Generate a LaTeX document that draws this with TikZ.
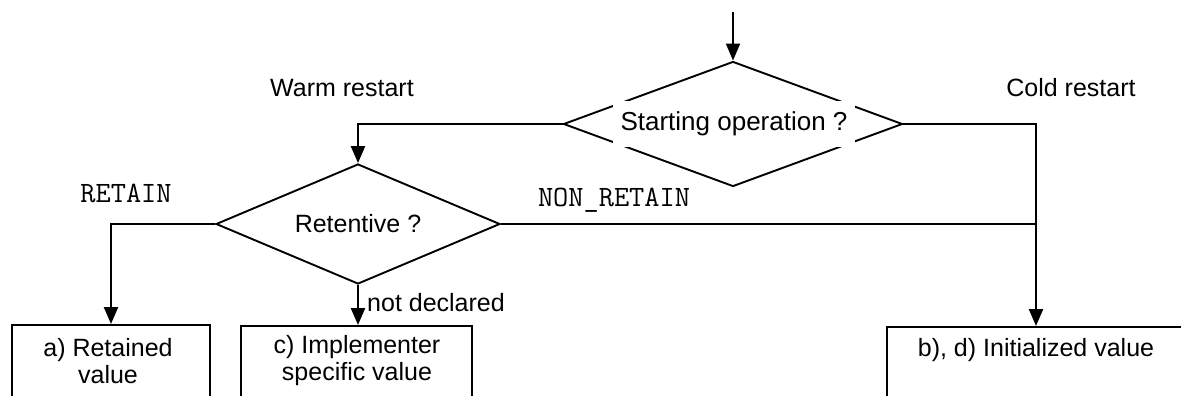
\documentclass[tikz,border=0pt]{standalone}
\usepackage{fontspec}
\setmainfont{Liberation Sans}
\usetikzlibrary{arrows.meta,shapes.geometric}
\begin{document}
\begin{tikzpicture}[x=1pt,y=-1pt, line join=miter,
  txt/.style={font=\fontsize{25}{27}\selectfont, inner sep=0pt},
  mono/.style={font=\ttfamily\fontsize{29.5}{34}\selectfont, inner sep=0pt},
  dia/.style={draw, diamond, inner sep=0pt, line width=1.9pt},
  box/.style={draw, rectangle, line width=1.9pt, inner sep=0pt},
  conn/.style={line width=2.4pt},
  arr/.style={conn, -{Triangle[length=17pt,width=14pt]}}]
\useasboundingbox (0,0) rectangle (1181,396);
\clip (0,0) rectangle (1181,396);
% decisions
\node[dia, minimum width=339pt, minimum height=125pt] (d1) at (733,124) {};
\node[txt, font=\fontsize{26}{28}\selectfont, fill=white, minimum width=242pt, minimum height=46pt] (d1t) at (734,124) {Starting operation ?};
\node[dia, minimum width=284pt, minimum height=120pt] (d2) at (358,224) {};
\node[txt] (d2t) at (358,224) {Retentive ?};
% boxes
\node[box, minimum width=198pt, minimum height=120pt, anchor=north] (ba) at (111,324) {};
\node[box, minimum width=231pt, minimum height=120pt, anchor=north] (bc) at (356.5,325) {};
\node[box, minimum width=320pt, minimum height=120pt, anchor=north west] (bbd) at (886,326) {};
\node[txt, align=center] (bat) at (108,361) {a) Retained\\value};
\node[txt, align=center] (bct) at (357,361) {c) Implementer\\specific value};
\node[txt] (bbdt) at (1036,350) {b), d) Initialized value};
% labels
\node[txt] (warm) at (342,88) {Warm restart};
\node[txt] (cold) at (1071,88) {Cold restart};
\node[mono] (ret) at (126,193) {RETAIN};
\node[mono] (nret) at (614,200) {NON\_RETAIN};
\node[txt, anchor=west] (nd) at (367,303) {not declared};
% connectors
\coordinate (start) at (733,12);
\coordinate (bdin) at (1036,326);
\draw[arr, line width=1.9pt] (start) -- (d1.north);
\draw[arr] (d1.west) -| (d2.north);
\draw[arr] (d1.east) -| (bdin);
\draw[arr] (d2.west) -| (ba.north);
\draw[arr] (d2.south) -- (d2.south |- bc.north);
\draw[conn] (d2.east) -- (d2.east -| bdin);
\end{tikzpicture}
\end{document}
